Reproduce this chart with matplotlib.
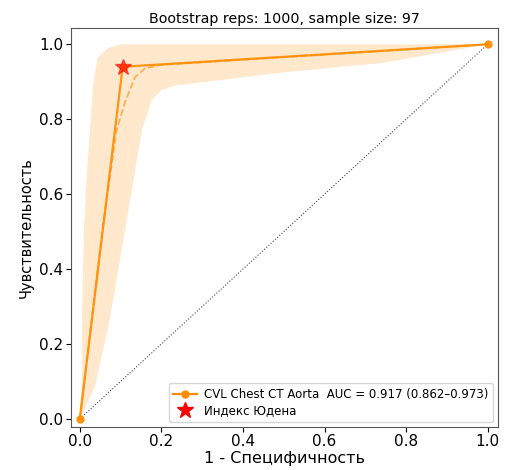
import numpy as np
import matplotlib
matplotlib.use('Agg')
import matplotlib.pyplot as plt

# ROC points (1 - specificity, sensitivity)
roc_fpr = [0.0, 0.105, 1.0]
roc_tpr = [0.0, 0.94, 1.0]

# mean bootstrap curve (dashed)
mean_fpr = [0.0, 0.02, 0.056, 0.09, 0.11, 0.135, 0.16, 0.2, 1.0]
mean_tpr = [0.0, 0.18, 0.51, 0.77, 0.843, 0.912, 0.936, 0.945, 1.0]

# bootstrap band edges
up_fpr = [0.0, 0.005, 0.006, 0.01, 0.017, 0.025, 0.033, 0.044, 0.069, 0.1, 1.0]
up_tpr = [0.0, 0.1, 0.3, 0.5, 0.65, 0.77, 0.9, 0.965, 0.99, 1.0, 1.0]
lo_fpr = [0.0, 0.037, 0.073, 0.115, 0.152, 0.176, 0.2, 0.233, 0.5, 0.74, 1.0]
lo_tpr = [0.0, 0.085, 0.264, 0.53, 0.77, 0.85, 0.877, 0.89, 0.925, 0.95, 1.0]

youden = (0.105, 0.94)
title = 'Bootstrap reps: 1000, sample size: 97'
label = 'CVL Chest CT Aorta  AUC = 0.917 (0.862\u20130.973)'

fig = plt.figure(figsize=(5.06, 4.70), dpi=100)
ax = fig.add_axes([0.140, 0.092, 0.844, 0.848])

ax.fill(np.r_[up_fpr, lo_fpr[::-1]], np.r_[up_tpr, lo_tpr[::-1]],
        color='darkorange', alpha=0.2, lw=0)
ax.plot([0, 1], [0, 1], ls=':', color='#444466', lw=0.8)
ax.plot(mean_fpr, mean_tpr, ls='--', color='darkorange', alpha=0.6, lw=1.3)
ax.plot(youden[0], youden[1], marker='*', color='red', ms=12, ls='',
        alpha=0.6, label='Индекс Юдена', zorder=3)
ax.plot(roc_fpr, roc_tpr, marker='o', ms=5, color='darkorange', lw=1.6,
        alpha=0.9, label=label, zorder=2)

h, l = ax.get_legend_handles_labels()
ax.legend(h[::-1], l[::-1], loc='lower right', fontsize=8.5,
          borderaxespad=0.4, handletextpad=0.6, labelspacing=0.3)
leg = ax.get_legend()
for lh in leg.legend_handles:
    lh.set_alpha(1)

ax.set_xlim(-0.022, 1.025)
ax.set_ylim(-0.021, 1.043)
ax.set_xticks([0, 0.2, 0.4, 0.6, 0.8, 1.0])
ax.set_yticks([0, 0.2, 0.4, 0.6, 0.8, 1.0])
ax.tick_params(labelsize=11, pad=2)
ax.set_title(title, fontsize=10.3, pad=4)
ax.set_xlabel('1 - Специфичность', fontsize=11.5, labelpad=1)
ax.set_ylabel('Чувствительность', fontsize=10.5)
for s in ax.spines.values():
    s.set_color('#555555')

fig.savefig('out.png', dpi=100)
